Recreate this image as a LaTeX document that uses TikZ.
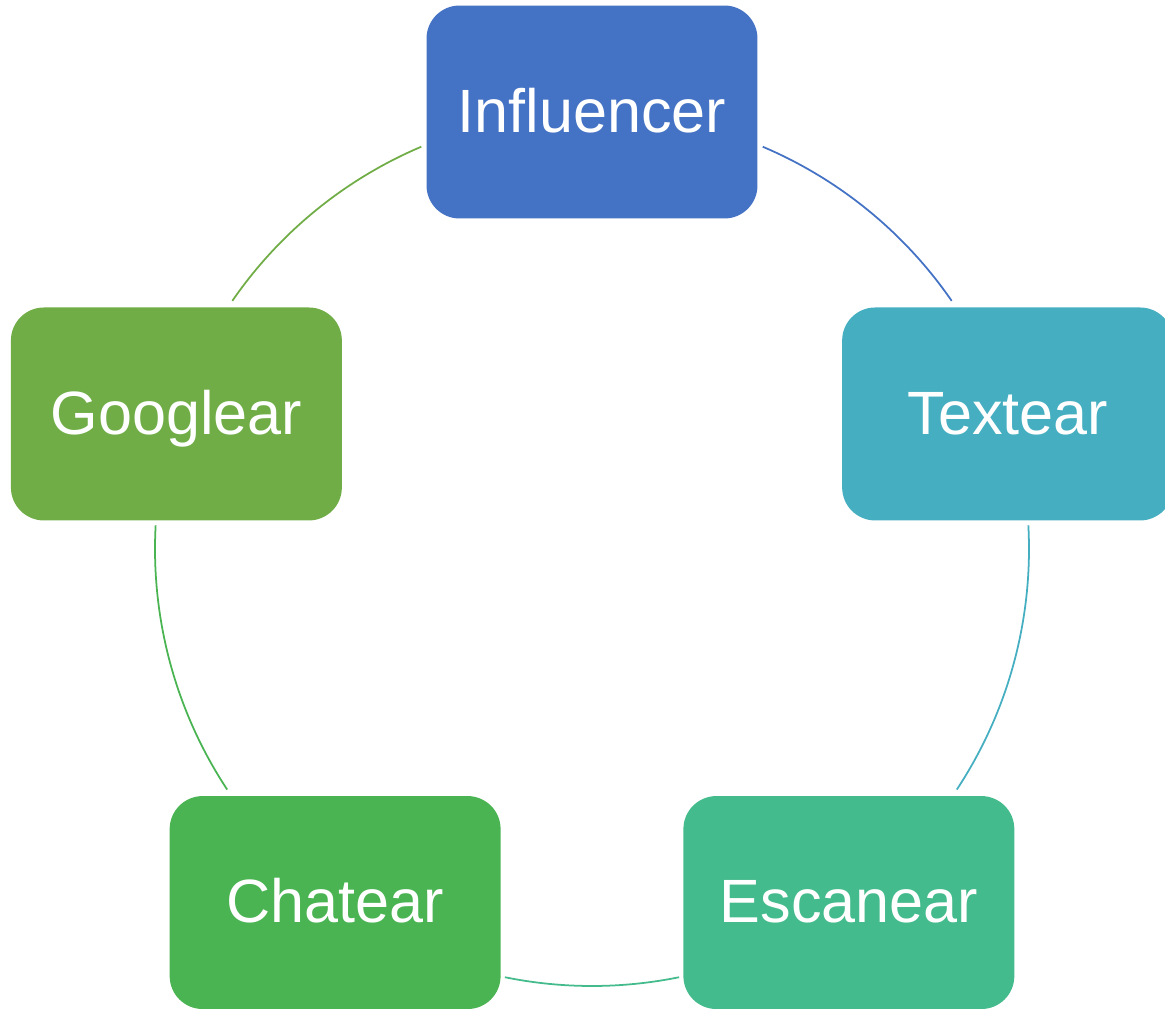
\documentclass[tikz,border=0pt]{standalone}
\usepackage{fontspec}
\setmainfont{Liberation Sans}
\usepackage{xcolor}
\usetikzlibrary{calc}
\usetikzlibrary{positioning}
\definecolor{inflblue}{HTML}{4472C4}
\definecolor{textteal}{HTML}{45AFC1}
\definecolor{scangreen}{HTML}{44BB8C}
\definecolor{chatgreen}{HTML}{4AB453}
\definecolor{googgreen}{HTML}{70AD47}

\begin{document}
\begin{tikzpicture}[x=0.02cm,y=0.02cm,
	stage/.style={rectangle,rounded corners=0.66cm,minimum width=6.62cm,minimum height=4.26cm,inner sep=0pt,
		text=white,font=\fontsize{34.8}{40}\selectfont,text height=28pt,text depth=5pt},
	cycline/.style={line width=1pt}]
		\def\R{437}
		\useasboundingbox (-592,549) rectangle (573,-459);
		\clip (-592,549) rectangle (573,-459);
		\coordinate (c) at (0,0);
		% the five stages round the circle
		\node[stage,fill=inflblue] (infl) at (90:\R) {Influencer};
		\node[stage,fill=textteal] (text) at (18:\R) {Textear};
		\node[stage,fill=scangreen] (scan) at (-54:\R) {Escanear};
		\node[stage,fill=chatgreen] (chat) at (-126:\R) {Chatear};
		\node[stage,fill=googgreen] (goog) at (162:\R) {Googlear};
		% arcs between them
		\draw[cycline,inflblue] ($(c)+(67:\R)$) arc[start angle=67,end angle=34.6,radius=\R];
		\draw[cycline,textteal] ($(c)+(3.1:\R)$) arc[start angle=3.1,end angle=-33.4,radius=\R];
		\draw[cycline,scangreen] ($(c)+(-78.5:\R)$) arc[start angle=-78.5,end angle=-101.5,radius=\R];
		\draw[cycline,chatgreen] ($(c)+(-146.6:\R)$) arc[start angle=-146.6,end angle=-183.1,radius=\R];
		\draw[cycline,googgreen] ($(c)+(145.4:\R)$) arc[start angle=145.4,end angle=113,radius=\R];
\end{tikzpicture}
\end{document}
